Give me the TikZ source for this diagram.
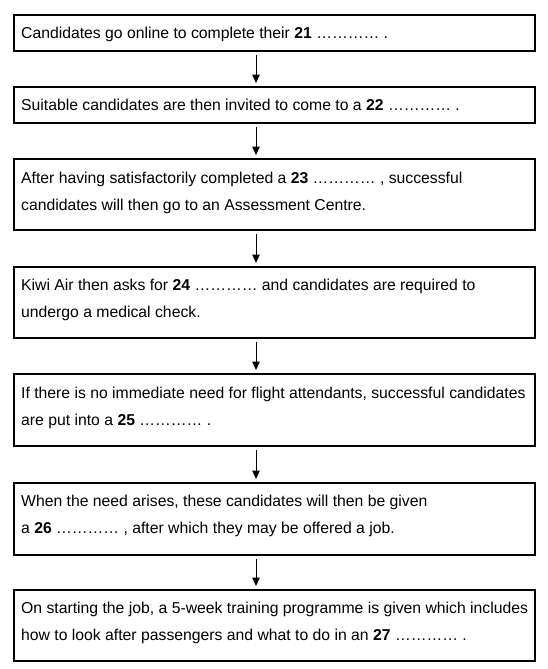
\documentclass[tikz,border=0pt]{standalone}
\usepackage{fontspec}
\setmainfont{Liberation Sans}
\usetikzlibrary{calc,arrows.meta}
\begin{document}
\begin{tikzpicture}[x=1pt,y=-1pt,
  box/.style={draw=black,line width=1.2pt,anchor=north west,minimum width=521pt,inner sep=0pt,outer sep=0pt},
  txt/.style={anchor=base west,inner sep=0pt,font=\fontsize{15.75}{27}\selectfont,text=black},
  arr/.style={line width=1pt,-{Triangle[length=8.5pt,width=7.5pt]}}]
\useasboundingbox (0,0) rectangle (547,669);
\node[box,minimum height=36pt] (b1) at (14,15) {};
\node[box,minimum height=36pt] (b2) at (14,87) {};
\node[box,minimum height=71pt] (b3) at (14,159) {};
\node[box,minimum height=71pt] (b4) at (14,267) {};
\node[box,minimum height=72pt] (b5) at (14,374) {};
\node[box,minimum height=72pt] (b6) at (14,483) {};
\node[box,minimum height=71pt] (b7) at (14,590) {};
\node[txt] (t1) at (21,38) {Candidates go online to complete their \textbf{21} ………… .};
\node[txt] (t2) at (21,110) {Suitable candidates are then invited to come to a \textbf{22} ………… .};
\node[txt] (t3a) at (21,183.5) {After having satisfactorily completed a \textbf{23} ………… , successful};
\node[txt] (t3b) at (21,210.5) {candidates will then go to an Assessment Centre.};
\node[txt] (t4a) at (21,290.5) {Kiwi Air then asks for \textbf{24} ………… and candidates are required to};
\node[txt] (t4b) at (21,317.5) {undergo a medical check.};
\node[txt] (t5a) at (21,398) {If there is no immediate need for flight attendants, successful candidates};
\node[txt] (t5b) at (21,425) {are put into a \textbf{25} ………… .};
\node[txt] (t6a) at (21,506.5) {When the need arises, these candidates will then be given};
\node[txt] (t6b) at (21,533.5) {a \textbf{26} ………… , after which they may be offered a job.};
\node[txt] (t7a) at (21,613.5) {On starting the job, a 5-week training programme is given which includes};
\node[txt] (t7b) at (21,640.5) {how to look after passengers and what to do in an \textbf{27} ………… .};
\draw[arr] ($(b1.south west)+(242,4)$) -- ($(b2.north west)+(242,-4)$);
\draw[arr] ($(b2.south west)+(242,4)$) -- ($(b3.north west)+(242,-4)$);
\draw[arr] ($(b3.south west)+(242,4)$) -- ($(b4.north west)+(242,-4)$);
\draw[arr] ($(b4.south west)+(242,4)$) -- ($(b5.north west)+(242,-4)$);
\draw[arr] ($(b5.south west)+(242,4)$) -- ($(b6.north west)+(242,-4)$);
\draw[arr] ($(b6.south west)+(242,4)$) -- ($(b7.north west)+(242,-4)$);
\end{tikzpicture}
\end{document}
